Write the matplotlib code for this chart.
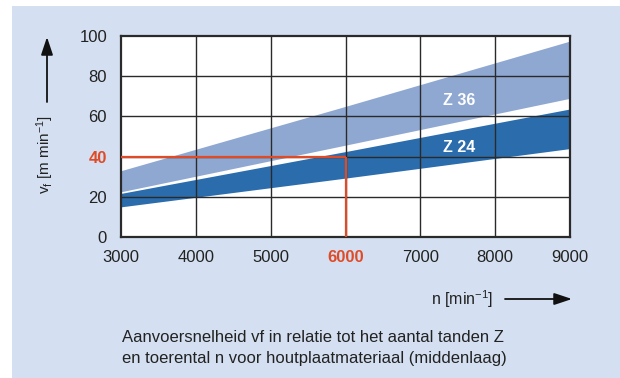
import matplotlib
matplotlib.use("Agg")
import matplotlib.pyplot as plt
from matplotlib.patches import Rectangle, FancyArrowPatch

plt.rcParams['font.family'] = ['Liberation Sans', 'DejaVu Sans']
plt.rcParams['mathtext.fontset'] = 'custom'
plt.rcParams['mathtext.rm'] = 'Liberation Sans'
plt.rcParams['mathtext.it'] = 'Liberation Sans:italic'
plt.rcParams['mathtext.bf'] = 'Liberation Sans:bold'

# --- data ---
n_vals = [3000, 6000, 9000]
z36_upper = [33, 65, 97.5]
z36_lower = [22.5, 45.7, 69]
z24_upper = [21.7, 42.5, 63.7]
z24_lower = [15, 29.3, 44]
band_labels = ["Z 36", "Z 24"]
label_pos_n = [7520, 7520]
label_pos_v = [68, 44.3]
example_n = 6000
example_v = 40
x_ticks = [3000, 4000, 5000, 6000, 7000, 8000, 9000]
y_ticks = [0, 20, 40, 60, 80, 100]
caption = ["Aanvoersnelheid vf in relatie tot het aantal tanden Z",
           "en toerental n voor houtplaatmateriaal (middenlaag)"]

W, H = 620, 378
BG = '#d4e0f1'
LIGHT = '#8fa8d1'
DARK = '#2b6cad'
RED = '#e04b27'
GRID = '#2a2a2a'
TXT = '#222222'

fig = plt.figure(figsize=(W / 100, H / 100), dpi=100, facecolor='white')
fig.patches.append(Rectangle((12 / W, 0), 1 - 12 / W, (H - 6) / H,
                             transform=fig.transFigure, facecolor=BG,
                             edgecolor='none', zorder=-10))

ax = fig.add_axes([121 / W, (H - 237) / H, 449 / W, 201 / H])
ax.set_facecolor('white')
ax.set_xlim(3000, 9000)
ax.set_ylim(0, 100)

ax.fill_between(n_vals, z36_lower, z36_upper, color=LIGHT, lw=0, zorder=1)
ax.fill_between(n_vals, z24_lower, z24_upper, color=DARK, lw=0, zorder=1)

for x in x_ticks[1:-1]:
    ax.axvline(x, color=GRID, lw=1.0, zorder=2)
for y in y_ticks[1:-1]:
    ax.axhline(y, color=GRID, lw=1.0, zorder=2)

ax.plot([3000, example_n], [example_v, example_v], color=RED, lw=1.6, zorder=3,
        solid_capstyle='butt')
ax.plot([example_n, example_n], [0, example_v], color=RED, lw=1.6, zorder=3,
        solid_capstyle='butt')

for lab, xn, yv in zip(band_labels, label_pos_n, label_pos_v):
    ax.text(xn, yv, lab, color='white', fontsize=11.5, fontweight='bold',
            ha='center', va='center', zorder=4)

for s in ax.spines.values():
    s.set_color(GRID)
    s.set_linewidth(1.6)

ax.set_xticks(x_ticks)
ax.set_yticks(y_ticks)
ax.set_xticklabels([str(v) for v in x_ticks])
ax.set_yticklabels([str(v) for v in y_ticks])
ax.tick_params(length=0, labelsize=12, colors=TXT, pad=9)
ax.tick_params(axis='y', pad=10)
for t in ax.get_xticklabels():
    if t.get_text() == str(example_n):
        t.set_color(RED)
        t.set_fontweight('bold')
for t in ax.get_yticklabels():
    if t.get_text() == str(example_v):
        t.set_color(RED)
        t.set_fontweight('bold')

# axis labels with arrows
fig.text(45 / W, 1 - 155 / H, r'v$_\mathrm{f}$ [m min$^{\mathrm{-1}}$]', rotation=90,
         ha='center', va='center', fontsize=11, color=TXT)
fig.text(493 / W, 1 - 299 / H, r'n [min$^{\mathrm{-1}}$]', ha='right', va='center',
         fontsize=11.5, color=TXT)
arrow_kw = dict(arrowstyle='-|>,head_length=0.9,head_width=0.3', color='#111111',
                lw=1.3, shrinkA=0, shrinkB=0)
fig.add_artist(FancyArrowPatch(
    (47 / W, 1 - 102 / H), (47 / W, 1 - 37 / H), transform=fig.transFigure,
    mutation_scale=12, **arrow_kw))
fig.add_artist(FancyArrowPatch(
    (505 / W, 1 - 299 / H), (572 / W, 1 - 299 / H), transform=fig.transFigure,
    mutation_scale=12, **arrow_kw))

fig.text(122 / W, 1 - 338 / H, caption[0], ha='left', va='center',
         fontsize=12, color=TXT)
fig.text(122 / W, 1 - 359 / H, caption[1], ha='left', va='center',
         fontsize=12, color=TXT)

fig.savefig('out.png', dpi=100, facecolor=fig.get_facecolor())
